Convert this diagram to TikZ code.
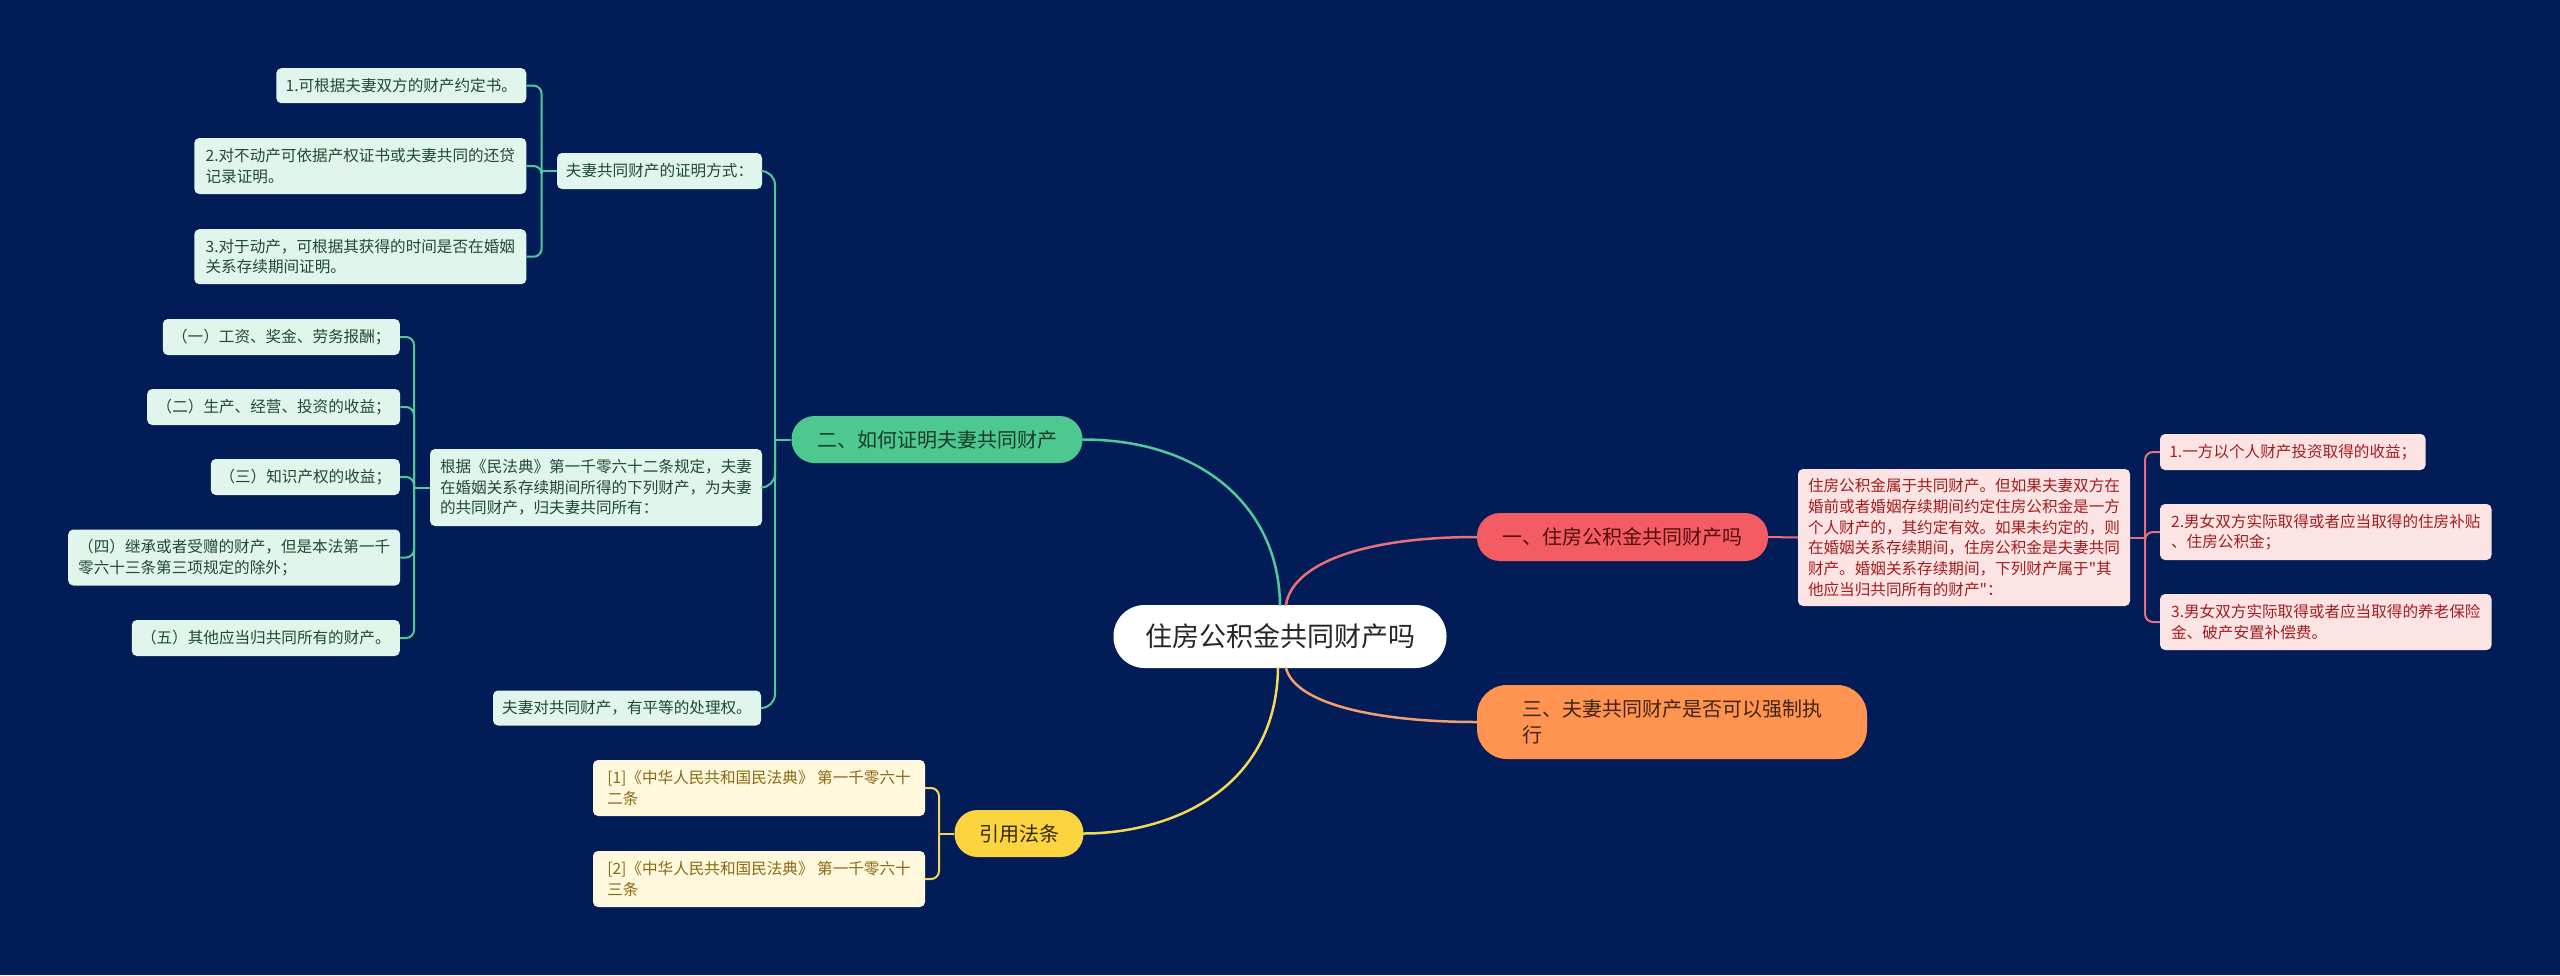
\documentclass[tikz,border=0pt]{standalone}
\usepackage{fontspec}
\setmainfont{Noto Sans CJK SC}[Ligatures=TeXOff]
\usetikzlibrary{positioning}

\definecolor{bgblue}{RGB}{2,28,87}
\definecolor{mainfill}{RGB}{255,255,255}
\definecolor{gfill}{RGB}{77,201,143}
\definecolor{gline}{RGB}{82,201,154}
\definecolor{gleaf}{RGB}{224,245,236}
\definecolor{gtext}{RGB}{31,74,52}
\definecolor{rfill}{RGB}{242,92,98}
\definecolor{rline}{RGB}{232,112,122}
\definecolor{rleaf}{RGB}{253,228,228}
\definecolor{rtext}{RGB}{165,28,28}
\definecolor{ofill}{RGB}{255,148,80}
\definecolor{oline}{RGB}{240,160,112}
\definecolor{yfill}{RGB}{252,212,64}
\definecolor{yline}{RGB}{245,216,90}
\definecolor{yleaf}{RGB}{255,248,220}
\definecolor{ytext}{RGB}{139,105,20}

\begin{document}
\begin{tikzpicture}[x=1pt, y=-1pt,
    size/.style 2 args={minimum width=#1, minimum height=#2},
    leaf/.style={rounded corners=5, inner xsep=4, inner ysep=6, align=left,
        font=\fontsize{15.6}{20.7}\selectfont},
    branch/.style={rounded corners=23, inner xsep=12, inner ysep=4, align=left,
        font=\fontsize{20}{26.7}\selectfont},
    gleafbox/.style={leaf, fill=gleaf, text=gtext},
    rleafbox/.style={leaf, fill=rleaf, text=rtext},
    yleafbox/.style={leaf, fill=yleaf, text=ytext},
    link/.style={line width=2.5, line cap=round},
    fork/.style={line width=2, rounded corners=8}]

    % Background
    \fill[bgblue] (0,0) rectangle (2560,975);

    % Place the centre and the four branches
    \node (main) [size={333}{63}, rounded corners=31, fill=mainfill, text=black!85,
        font=\fontsize{27}{30}\selectfont] at (1280,636.5) {住房公积金共同财产吗};
    \node (er) [branch, size={291}{47}, fill=gfill, text=gtext!80!black] at (937,439.5) {二、如何证明夫妻共同财产};
    \node (yi) [branch, size={291}{48}, fill=rfill, text=rtext!50!black] at (1622.5,537) {一、住房公积金共同财产吗};
    \node (san) [branch, size={390}{74}, rounded corners=30, fill=ofill, text=black!75!ofill] at (1672,722) {三、夫妻共同财产是否可以强制执\\行};
    \node (yy) [branch, size={129}{47}, fill=yfill, text=black!80!yfill] at (1019,833.5) {引用法条};

    % Place the leaves of branch two
    \node (gproof) [gleafbox, size={205}{36}] at (659.5,171) {夫妻共同财产的证明方式：};
    \node (gp1) [gleafbox, size={250}{35}] at (401.3,85.7) {1.可根据夫妻双方的财产约定书。};
    \node (gp2) [gleafbox, size={332}{56}] at (360.3,166) {2.对不动产可依据产权证书或夫妻共同的还贷\\记录证明。};
    \node (gp3) [gleafbox, size={332}{55}] at (360.3,256.7) {3.对于动产，可根据其获得的时间是否在婚姻\\关系存续期间证明。};
    \node (glaw) [gleafbox, size={332}{77}] at (596,487.5) {根据《民法典》第一千零六十二条规定，夫妻\\在婚姻关系存续期间所得的下列财产，为夫妻\\的共同财产，归夫妻共同所有：};
    \node (gl1) [gleafbox, size={237}{36}] at (281.3,337) {（一）工资、奖金、劳务报酬；};
    \node (gl2) [gleafbox, size={253}{36}] at (273.7,407) {（二）生产、经营、投资的收益；};
    \node (gl3) [gleafbox, size={189}{36}] at (305.3,477) {（三）知识产权的收益；};
    \node (gl4) [gleafbox, size={332}{56}] at (234.2,557.5) {（四）继承或者受赠的财产，但是本法第一千\\零六十三条第三项规定的除外；};
    \node (gl5) [gleafbox, size={268}{36}] at (265.8,638) {（五）其他应当归共同所有的财产。};
    \node (gequal) [gleafbox, size={268}{35}] at (627,708) {夫妻对共同财产，有平等的处理权。};

    % Place the leaves of branch one
    \node (rdetail) [rleafbox, size={332}{137}] at (1964,537.5) {住房公积金属于共同财产。但如果夫妻双方在\\婚前或者婚姻存续期间约定住房公积金是一方\\个人财产的，其约定有效。如果未约定的，则\\在婚姻关系存续期间，住房公积金是夫妻共同\\财产。婚姻关系存续期间，下列财产属于"其\\他应当归共同所有的财产"：};
    \node (r1) [rleafbox, size={265.5}{36}] at (2292.8,452) {1.一方以个人财产投资取得的收益；};
    \node (r2) [rleafbox, size={331.5}{56}] at (2325.8,532) {2.男女双方实际取得或者应当取得的住房补贴\\、住房公积金；};
    \node (r3) [rleafbox, size={331.5}{56}] at (2325.8,622) {3.男女双方实际取得或者应当取得的养老保险\\金、破产安置补偿费。};

    % Place the cited laws
    \node (y1) [yleafbox, size={332}{56}] at (759,788) {[1]《中华人民共和国民法典》 第一千零六十\\二条};
    \node (y2) [yleafbox, size={332}{56}] at (759,879) {[2]《中华人民共和国民法典》 第一千零六十\\三条};

    % Spine points of the forks
    \coordinate (erspine) at (775,439.5);
    \coordinate (proofspine) at (541.6,171);
    \coordinate (lawspine) at (414,487.5);
    \coordinate (yyspine) at (939,833.5);
    \coordinate (rspine) at (2145,537.5);

    % Draw the curves from the centre
    \draw[link, gline] (er.east) .. controls (1205,439.5) and (1279,510) .. (main.north);
    \draw[link, rline] ([xshift=6]main.north) .. controls (1292,565) and (1360,537) .. (yi.west);
    \draw[link, oline] ([xshift=6]main.south) .. controls (1296,705) and (1380,722) .. (san.west);
    \draw[link, yline] ([xshift=-2]main.south) .. controls (1276,790) and (1170,833.5) .. (yy.east);

    % Draw the forks
    \draw[fork, gline] (er.west) -- (erspine);
    \draw[fork, gline, rounded corners=14] (erspine) |- (gproof.east);
    \draw[fork, gline, rounded corners=14] (erspine) |- (glaw.east);
    \draw[fork, gline, rounded corners=14] (erspine) |- (gequal.east);
    \draw[fork, gline] (gproof.west) -- (proofspine);
    \foreach \leaf in {gp1, gp2, gp3}
        \draw[fork, gline] (proofspine) |- (\leaf.east);
    \draw[fork, gline] (glaw.west) -- (lawspine);
    \foreach \leaf in {gl1, gl2, gl3, gl4, gl5}
        \draw[fork, gline] (lawspine) |- (\leaf.east);
    \draw[fork, rline] (yi.east) -- (rdetail.west);
    \draw[fork, rline] (rdetail.east) -- (rspine);
    \foreach \leaf in {r1, r2, r3}
        \draw[fork, rline] (rspine) |- (\leaf.west);
    \draw[fork, yline] (yy.west) -- (yyspine);
    \foreach \leaf in {y1, y2}
        \draw[fork, yline] (yyspine) |- (\leaf.east);
\end{tikzpicture}
\end{document}
